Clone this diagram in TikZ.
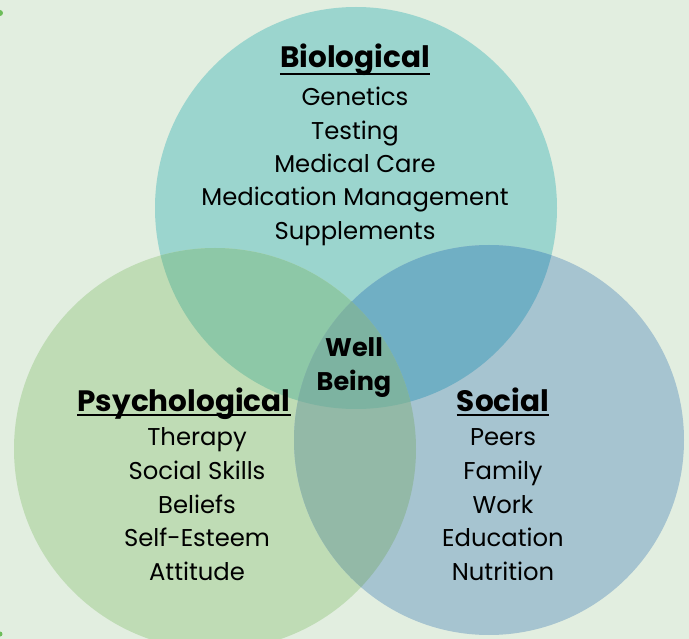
\documentclass[tikz,border=0pt]{standalone}
\usepackage{fontspec}
\setmainfont{Poppins}
\usetikzlibrary{positioning}
\definecolor{wbbg}{HTML}{E2EEE0}
\definecolor{biofill}{HTML}{9BD5CE}
\definecolor{psyfill}{HTML}{BFDCB5}
\definecolor{socfill}{HTML}{A6C4D0}
\definecolor{biopsy}{HTML}{8DC8A7}
\definecolor{biosoc}{HTML}{70AFC4}
\definecolor{psysoc}{HTML}{93B9A7}
\definecolor{wbcore}{HTML}{7DB3A1}
\definecolor{wbdot}{HTML}{6DBD5A}
\tikzset{
  head/.style={anchor=base, inner xsep=0pt, font=\bfseries\fontsize{29.5}{34}\selectfont},
  item/.style={anchor=base, font=\fontsize{24.3}{28}\selectfont},
  core/.style={anchor=base, font=\bfseries\fontsize{25.5}{30}\selectfont},
  uline/.style={line width=2pt},
}
\begin{document}
\begin{tikzpicture}[x=1pt, y=-1pt]
\fill[wbbg] (0,0) rectangle (689,639);
\useasboundingbox (0,0) rectangle (689,639);
\fill[wbdot] (0,13) circle (3pt);
\fill[wbdot] (0,634) circle (2.5pt);
% the three circles
\coordinate (bioc) at (356,208);
\coordinate (psyc) at (215,449);
\coordinate (socc) at (489,440);
\fill[biofill] (bioc) circle (201pt);
\fill[psyfill] (psyc) circle (201pt);
\fill[socfill] (socc) circle (195pt);
% overlaps
\begin{scope}
  \clip (bioc) circle (201pt);
  \fill[biopsy] (psyc) circle (201pt);
  \fill[biosoc] (socc) circle (195pt);
\end{scope}
\begin{scope}
  \clip (psyc) circle (201pt);
  \fill[psysoc] (socc) circle (195pt);
\end{scope}
\begin{scope}
  \clip (bioc) circle (201pt);
  \clip (psyc) circle (201pt);
  \fill[wbcore] (socc) circle (195pt);
\end{scope}
% biological
\node[head] (biohd) at (355,68) {Biological};
\draw[uline] ([yshift=-6pt]biohd.base west) -- ([yshift=-6pt]biohd.base east);
\foreach \t [count=\i from 0] in {Genetics,Testing,Medical Care,Medication Management,Supplements}
  \node[item] (bio\i) at (355,106+33.3*\i) {\t};
% psychological
\node[head] (psyhd) at (184,412) {Psychological};
\draw[uline] ([yshift=-3pt]psyhd.base west) -- ([yshift=-3pt]psyhd.base east);
\foreach \t [count=\i from 0] in {Therapy,Social Skills,Beliefs,Self-Esteem,Attitude}
  \node[item] (psy\i) at (197,446+33.6*\i) {\t};
% social
\node[head] (sochd) at (503,412) {Social};
\draw[uline] ([yshift=-3pt]sochd.base west) -- ([yshift=-3pt]sochd.base east);
\foreach \t [count=\i from 0] in {Peers,Family,Work,Education,Nutrition}
  \node[item] (soc\i) at (503,446+33.6*\i) {\t};
% centre
\node[core] (well) at (354,357) {Well};
\node[core] (being) at (354,391) {Being};
\end{tikzpicture}
\end{document}
